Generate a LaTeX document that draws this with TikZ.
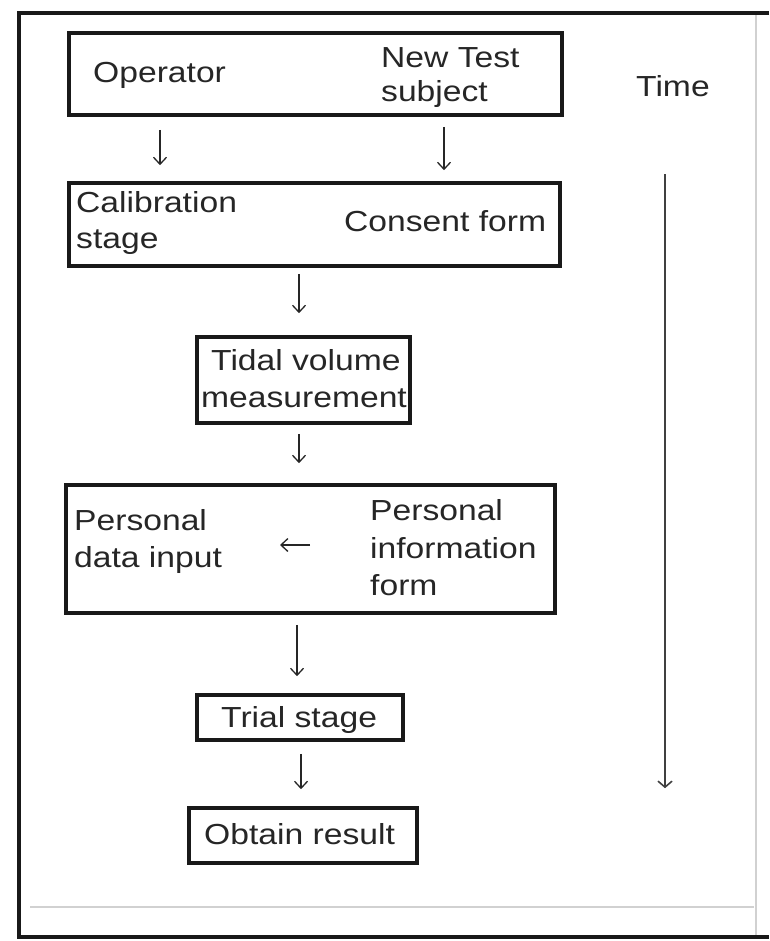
\documentclass[tikz,border=0pt]{standalone}
\usepackage{fontspec}
\setmainfont{Liberation Sans}[FakeStretch=1.16]
\usetikzlibrary{arrows.meta}
\begin{document}
\begin{tikzpicture}[x=1pt,y=-1pt,
  box/.style={draw=black!90,line width=3.6pt,inner sep=0pt},
  lbl/.style={inner sep=0pt,anchor=base west,font=\fontsize{29}{35}\selectfont,text=black!85},
  arr/.style={line width=1.3pt,draw=black!85,-{Straight Barb[length=7pt,width=13pt,line width=1.3pt]}},
  tarr/.style={line width=1.4pt,draw=black!75,-{Straight Barb[length=6pt,width=14pt,line width=1.6pt]}},
  frame/.style={line width=4pt,draw=black!90},
  faint/.style={line width=1.2pt,draw=black!18}]
\useasboundingbox (0,0) rectangle (769,941);
% outer frame
\draw[faint] (30,907) -- (754,907);
\draw[faint] (756,13) -- (756,937);
\draw[frame] (769,13) -- (19,13) -- (19,937) -- (769,937);
% boxes
\node[box,minimum width=493pt,minimum height=82pt] (b1) at (315.5,74) {};
\node[box,minimum width=491pt,minimum height=83pt] (b2) at (314.5,224.5) {};
\node[box,minimum width=213pt,minimum height=86pt] (b3) at (303.5,380) {};
\node[box,minimum width=489pt,minimum height=128pt] (b4) at (310.5,549) {};
\node[box,minimum width=206pt,minimum height=45pt] (b5) at (300,717.5) {};
\node[box,minimum width=228pt,minimum height=55pt] (b6) at (303,835.5) {};
% labels, one node per printed line
\node[lbl] (op)  at (93,83)   {Operator};
\node[lbl] (ns1) at (381,68)  {New Test};
\node[lbl] (ns2) at (381,102) {subject};
\node[lbl] (tm)  at (636,97)  {Time};
\node[lbl] (ca1) at (76,213)  {Calibration};
\node[lbl] (ca2) at (76,248)  {stage};
\node[lbl] (cf)  at (344,232) {Consent form};
\node[lbl] (tv1) at (211,370) {Tidal volume};
\node[lbl] (tv2) at (201,407) {measurement};
\node[lbl] (pd1) at (74,530)  {Personal};
\node[lbl] (pd2) at (74,567)  {data input};
\node[lbl] (pi1) at (370,520) {Personal};
\node[lbl] (pi2) at (370,558) {information};
\node[lbl] (pi3) at (370,595) {form};
\node[lbl] (ts)  at (221,727) {Trial stage};
\node[lbl] (ob)  at (204,844) {Obtain result};
% columns of the connectors
\coordinate (xl) at (160,0);
\coordinate (xr) at (444,0);
\coordinate (xm) at (299,0);
\coordinate (xn) at (297,0);
\coordinate (xo) at (301,0);
\coordinate (xt) at (665,0);
\coordinate (la) at (310,545);
\coordinate (lb) at (280,545);
% connectors
\draw[arr] ([yshift=-13pt]b1.south -| xl) -- ([yshift=16pt]b2.north -| xl);
\draw[arr] ([yshift=-10pt]b1.south -| xr) -- ([yshift=11pt]b2.north -| xr);
\draw[arr] ([yshift=-6pt]b2.south -| xm) -- ([yshift=22pt]b3.north -| xm);
\draw[arr] ([yshift=-9pt]b3.south -| xm) -- ([yshift=20pt]b4.north -| xm);
\draw[arr] ([yshift=-10pt]b4.south -| xn) -- ([yshift=17pt]b5.north -| xn);
\draw[arr] ([yshift=-12pt]b5.south -| xo) -- ([yshift=17pt]b6.north -| xo);
\draw[arr] (la) -- (lb);
\draw[tarr] ([yshift=7pt]b2.north -| xt) -- ([yshift=18pt]b6.north -| xt);
\end{tikzpicture}
\end{document}
